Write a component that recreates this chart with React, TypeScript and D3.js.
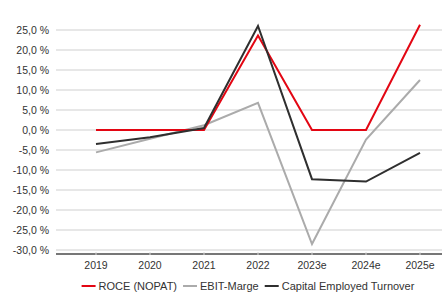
import React, { useEffect, useRef } from 'react';
import * as d3 from 'd3';

const YEARS = ['2019', '2020', '2021', '2022', '2023e', '2024e', '2025e'];
const ROCE = [0, 0, 0, 23.6, 0, 0, 26.3];
const EBIT_MARGE = [-5.6, -2.2, 1.2, 6.8, -28.5, -2.4, 12.5];
const CAP_TURNOVER = [-3.5, -1.8, 0.5, 26.0, -12.3, -12.9, -5.7];
const Y_TICKS = [25, 20, 15, 10, 5, 0, -5, -10, -15, -20, -25, -30];

const SERIES = [
  { name: 'ROCE (NOPAT)', values: ROCE, color: '#e30613' },
  { name: 'EBIT-Marge', values: EBIT_MARGE, color: '#ababab' },
  { name: 'Capital Employed Turnover', values: CAP_TURNOVER, color: '#2f2f2f' },
];

const App: React.FC = () => {
  const svgRef = useRef<SVGSVGElement>(null);

  useEffect(() => {
    if (!svgRef.current) return;
    const svg = d3.select(svgRef.current);
    svg.selectAll('*').remove();

    const width = 442;
    const font = 'Liberation Sans, Arial, sans-serif';
    const left = 56;

    const x = d3.scalePoint<string>().domain(YEARS).range([96, 420]);
    // 0 % sits at y=130, 4px per percent
    const y = d3.scaleLinear().domain([-31, 25]).range([254, 30]);

    // gridlines
    svg.append('g')
      .selectAll('line')
      .data(Y_TICKS)
      .enter()
      .append('line')
      .attr('x1', left)
      .attr('x2', width)
      .attr('y1', d => y(d))
      .attr('y2', d => y(d))
      .attr('stroke', '#cfcfcf')
      .attr('stroke-width', 1);

    // y labels
    svg.append('g')
      .selectAll('text')
      .data(Y_TICKS)
      .enter()
      .append('text')
      .attr('x', 49)
      .attr('y', d => y(d) + 3.8)
      .attr('text-anchor', 'end')
      .attr('font-family', font)
      .attr('font-size', 10.5)
      .attr('fill', '#333')
      .text(d => d3.format('.1f')(d).replace('.', ',').replace('−', '-') + ' %');

    // x axis line
    svg.append('line')
      .attr('x1', left)
      .attr('x2', width)
      .attr('y1', y(-31))
      .attr('y2', y(-31))
      .attr('stroke', '#777')
      .attr('stroke-width', 2);

    svg.append('g')
      .selectAll('line')
      .data(YEARS)
      .enter()
      .append('line')
      .attr('x1', d => x(d)!)
      .attr('x2', d => x(d)!)
      .attr('y1', y(-31) - 2)
      .attr('y2', y(-31) + 1)
      .attr('stroke', '#d8d8d8')
      .attr('stroke-width', 1);

    svg.append('g')
      .selectAll('text')
      .data(YEARS)
      .enter()
      .append('text')
      .attr('x', d => x(d)!)
      .attr('y', 269)
      .attr('text-anchor', 'middle')
      .attr('font-family', font)
      .attr('font-size', 10.5)
      .attr('fill', '#333')
      .text(d => d);

    // lines (gray first, dark on top)
    const line = d3.line<number>()
      .x((_, i) => x(YEARS[i])!)
      .y(d => y(d));

    [SERIES[1], SERIES[0], SERIES[2]].forEach(s => {
      svg.append('path')
        .datum(s.values)
        .attr('d', line)
        .attr('fill', 'none')
        .attr('stroke', s.color)
        .attr('stroke-width', 2)
        .attr('stroke-linejoin', 'miter');
    });

    // legend, laid out from measured text widths and centred
    const legend = svg.append('g');
    let cursor = 0;
    SERIES.forEach(s => {
      legend.append('line')
        .attr('x1', cursor)
        .attr('x2', cursor + 14)
        .attr('y1', 286)
        .attr('y2', 286)
        .attr('stroke', s.color)
        .attr('stroke-width', 2);
      const t = legend.append('text')
        .attr('x', cursor + 17)
        .attr('y', 290)
        .attr('font-family', font)
        .attr('font-size', 11)
        .attr('fill', '#333')
        .text(s.name);
      cursor += 17 + (t.node() as SVGTextElement).getComputedTextLength() + 6;
    });
    const total = cursor - 6;
    legend.attr('transform', `translate(${248 - total / 2},0)`);
  }, []);

  return (
    <svg
      ref={svgRef}
      width={442}
      height={293}
      viewBox="0 0 442 293"
      style={{ position: 'absolute', left: 0, top: 0, background: '#fff' }}
    ></svg>
  );
};

export default App;
